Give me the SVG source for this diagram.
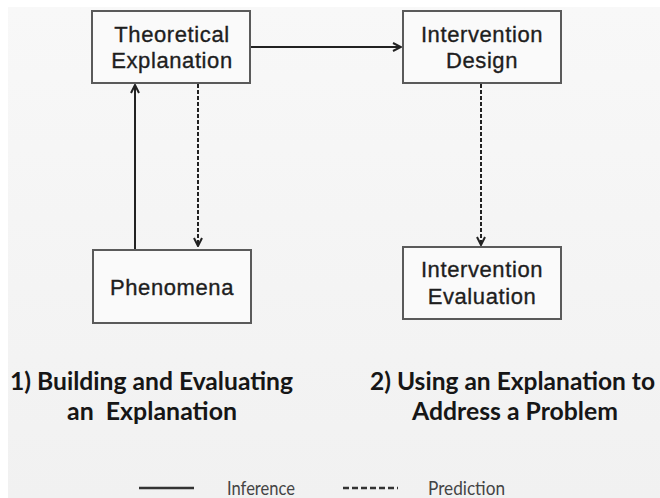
<svg xmlns="http://www.w3.org/2000/svg" width="660" height="498" viewBox="0 0 660 498">
  <defs>
    <linearGradient id="bg" x1="0" y1="0" x2="0" y2="1">
      <stop offset="0" stop-color="#f8f8f8"/>
      <stop offset="1" stop-color="#f1f1f1"/>
    </linearGradient>
    <marker id="chev" viewBox="0 0 10 10" refX="9" refY="5" markerWidth="10" markerHeight="10" markerUnits="userSpaceOnUse" orient="auto">
      <path d="M1,1 L9,5 L1,9" fill="none" stroke="#222" stroke-width="2"/>
    </marker>
  </defs>
  <style>
    .box { fill: #fafafa; stroke: #5a5a5a; stroke-width: 2; }
    .lbl { font-family: "Liberation Sans", Arial, sans-serif; font-size: 22px; fill: #1e1e1e; stroke: #1e1e1e; stroke-width: 0.35px; text-anchor: middle; letter-spacing: 0.6px; }
    .title { font-family: Lato, "Open Sans", sans-serif; font-weight: bold; font-size: 25px; fill: #161616; }
    .legend { font-family: Lato, "Open Sans", sans-serif; font-size: 19px; fill: #444; }
    .inf { fill: none; stroke: #222; stroke-width: 2; }
    .pred { fill: none; stroke: #222; stroke-width: 2; stroke-dasharray: 4 2; }
  </style>

  <!-- backdrop -->
  <rect x="0" y="0" width="660" height="498" fill="#ffffff"/>
  <rect x="8" y="7" width="652" height="491" fill="url(#bg)"/>

  <!-- links between stages -->
  <g id="connectors">
    <line class="inf" x1="135" y1="250" x2="135" y2="85" marker-end="url(#chev)"/>
    <line class="pred" x1="198" y1="84" x2="198" y2="246" marker-end="url(#chev)"/>
    <line class="inf" x1="251" y1="47" x2="401" y2="47" marker-end="url(#chev)"/>
    <line class="pred" x1="481" y1="84" x2="481" y2="245" marker-end="url(#chev)"/>
  </g>

  <g id="theoretical-explanation">
    <rect class="box" x="92" y="11" width="158" height="72"/>
    <text class="lbl" x="172" y="42">Theoretical</text>
    <text class="lbl" x="172" y="68">Explanation</text>
  </g>

  <g id="intervention-design">
    <rect class="box" x="403" y="11" width="158" height="72"/>
    <text class="lbl" x="482" y="42">Intervention</text>
    <text class="lbl" x="482" y="68">Design</text>
  </g>

  <g id="phenomena">
    <rect class="box" x="93" y="250" width="158" height="73"/>
    <text class="lbl" x="172" y="295">Phenomena</text>
  </g>

  <g id="intervention-evaluation">
    <rect class="box" x="403" y="247" width="158" height="72"/>
    <text class="lbl" x="482" y="277">Intervention</text>
    <text class="lbl" x="482" y="304">Evaluation</text>
  </g>

  <!-- section captions -->
  <g id="captions">
    <text class="title" x="10" y="390" textLength="283" lengthAdjust="spacingAndGlyphs">1) Building and Evaluating</text>
    <text class="title" x="67" y="420" textLength="170" lengthAdjust="spacingAndGlyphs" xml:space="preserve">an  Explanation</text>
    <text class="title" x="370" y="390" textLength="285" lengthAdjust="spacingAndGlyphs">2) Using an Explanation to</text>
    <text class="title" x="412" y="420" textLength="206" lengthAdjust="spacingAndGlyphs">Address a Problem</text>
  </g>

  <!-- key -->
  <g id="legend">
    <line x1="139" y1="488" x2="194" y2="488" stroke="#333" stroke-width="2.5"/>
    <text class="legend" x="227" y="495" textLength="68" lengthAdjust="spacingAndGlyphs">Inference</text>
    <line x1="343" y1="488" x2="398" y2="488" stroke="#333" stroke-width="2.5" stroke-dasharray="6 3"/>
    <text class="legend" x="428" y="495" textLength="77" lengthAdjust="spacingAndGlyphs">Prediction</text>
  </g>
</svg>
